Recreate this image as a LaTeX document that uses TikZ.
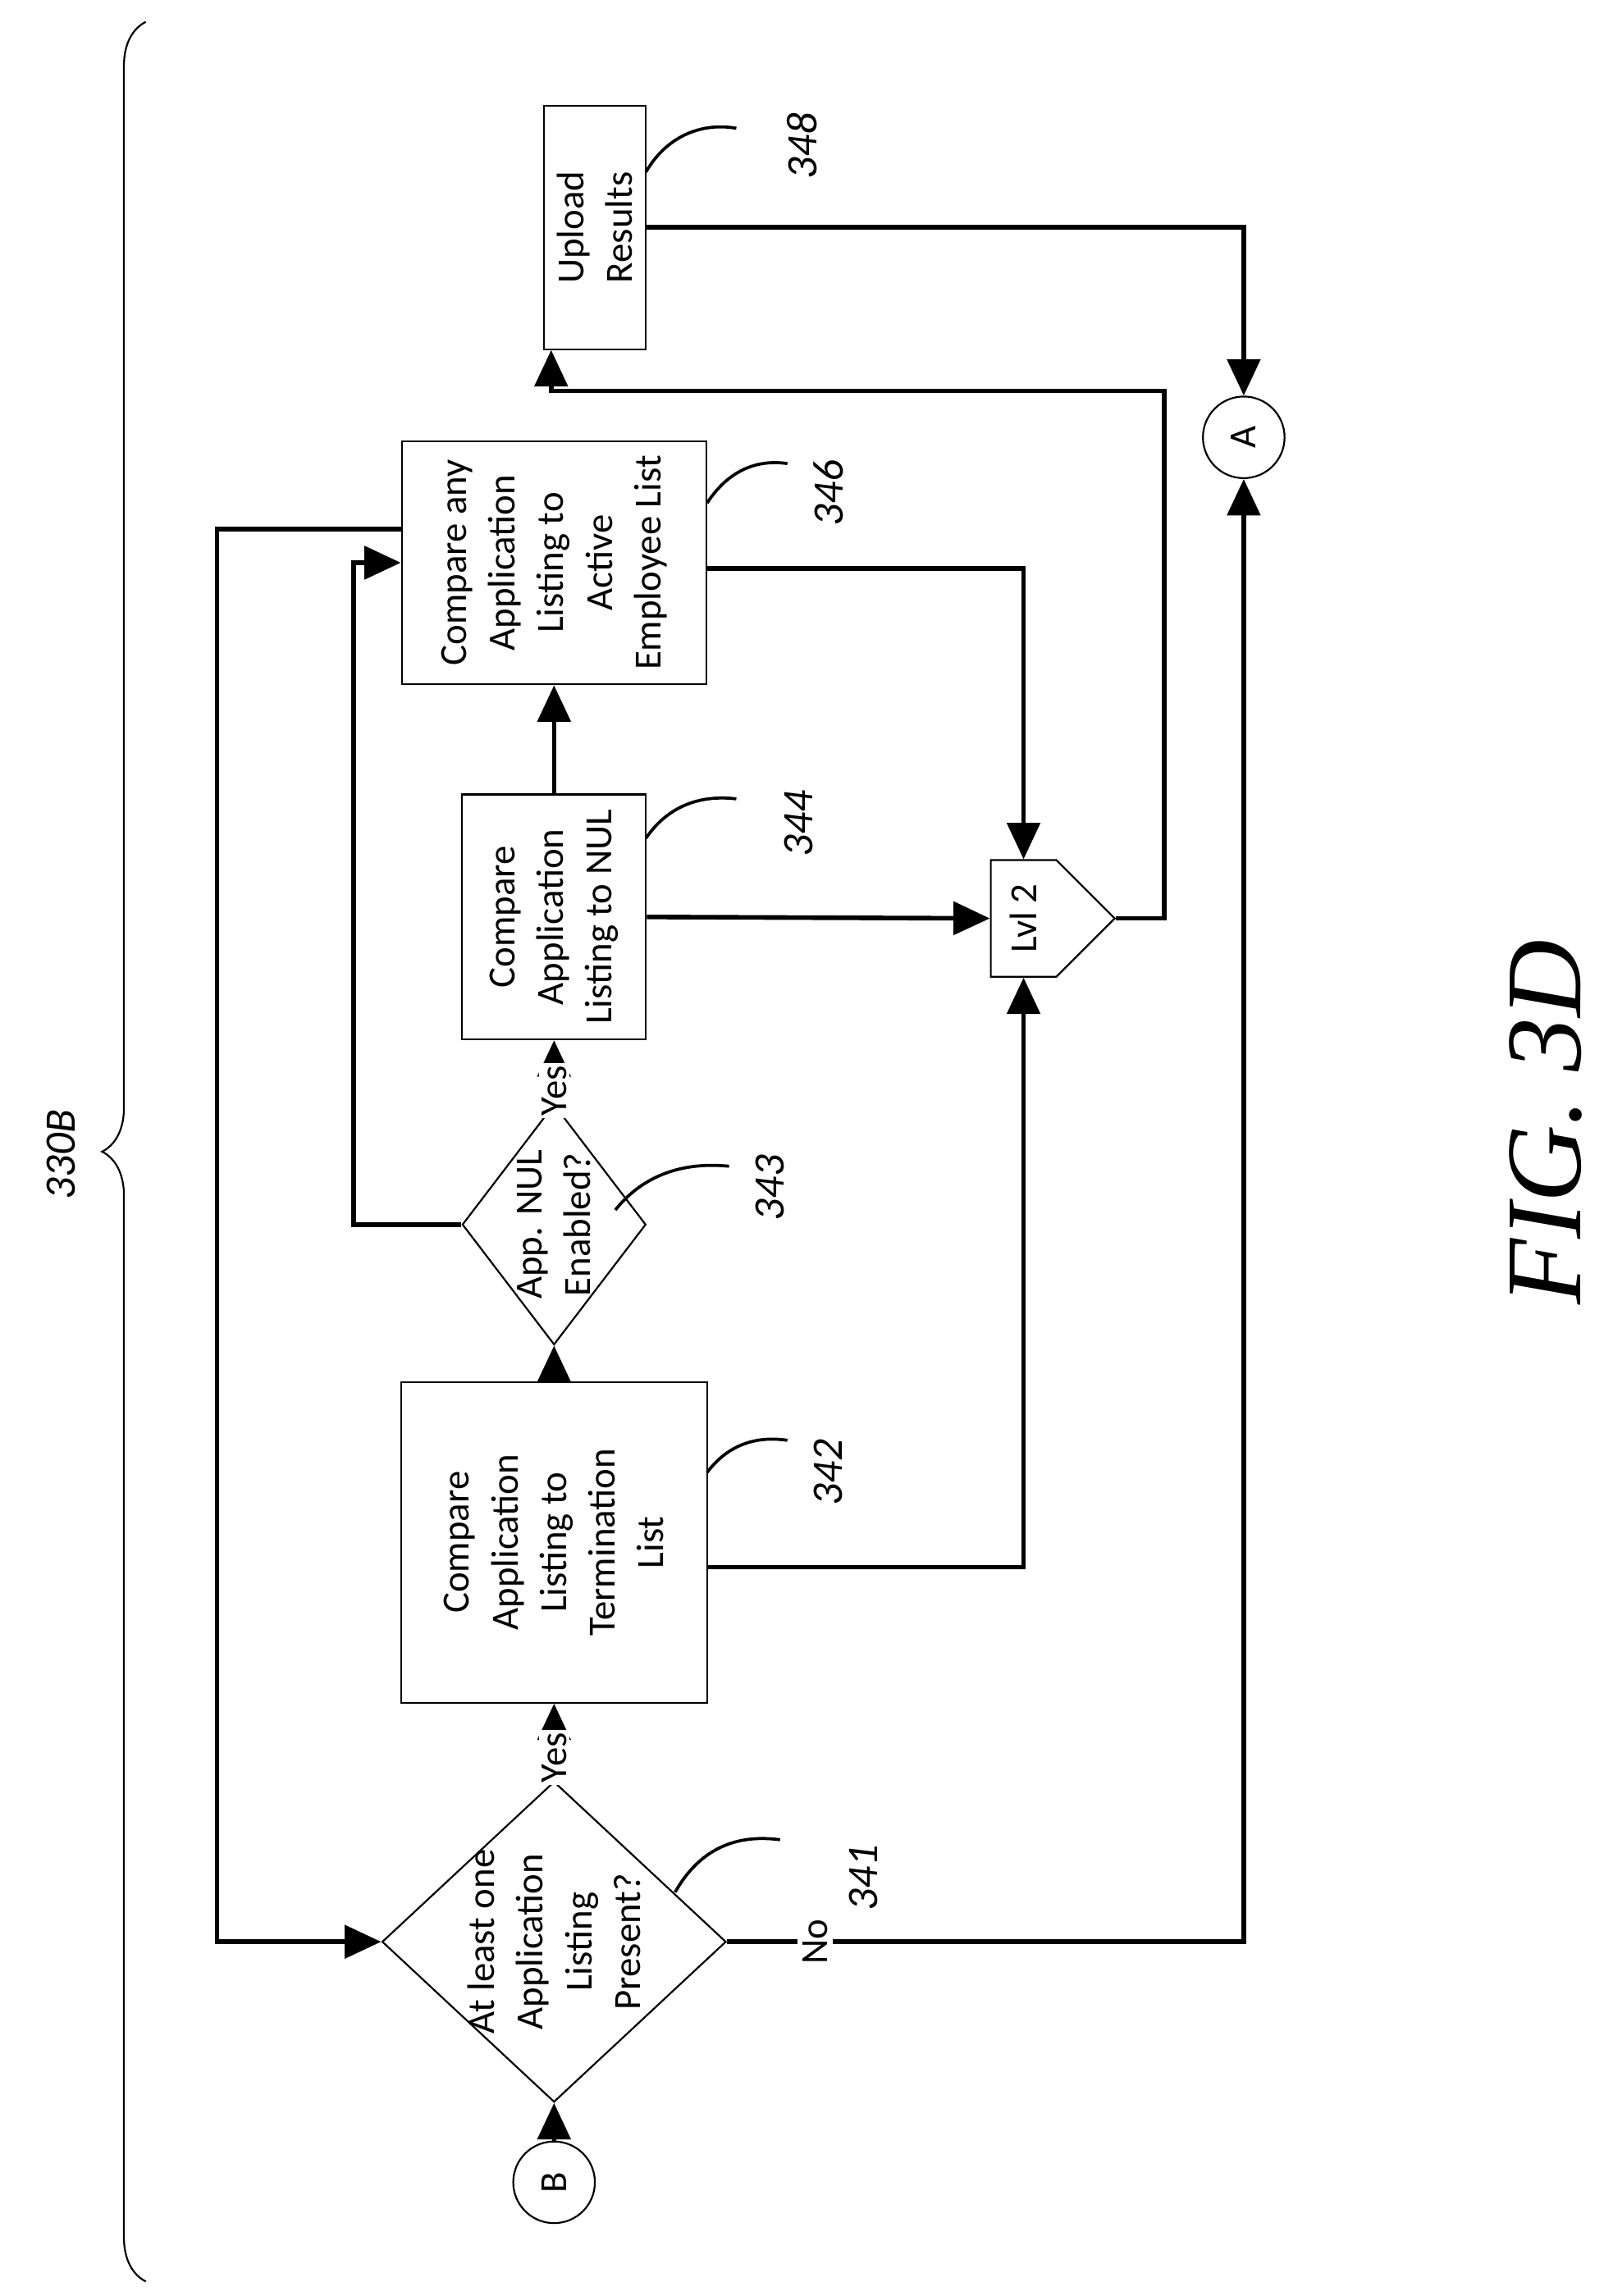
\documentclass[tikz,border=0pt]{standalone}
\usepackage{fontspec}
\setmainfont{Carlito}
\newfontfamily\figfont{Liberation Serif}
\usetikzlibrary{shapes.geometric,shapes.symbols,arrows.meta,decorations.pathreplacing,calc}
\tikzset{
  procbox/.style={draw, line width=0.7pt, rotate=90, align=center, inner sep=0pt, font=\fontsize{15}{19}\selectfont},
  decide/.style={draw, diamond, line width=0.7pt, rotate=90, inner sep=0pt},
  flow/.style={line width=1.8pt, -{Triangle[length=0.5cm,width=0.45cm]}},
  callout/.style={line width=1.2pt},
  refnum/.style={rotate=90, font=\fontsize{17}{20}\selectfont\itshape},
}
\begin{document}
\begin{tikzpicture}[x=0.02cm, y=-0.02cm]
\useasboundingbox (0,0) rectangle (1100,1575);

% steps (boxes drawn turned)
\node[procbox, minimum width=3.34cm, minimum height=1.4cm] (b348) at (408,156) {Upload\\Results};
\node[procbox, minimum width=3.34cm, minimum height=4.18cm] (b346) at (380,386) {Compare any\\Application\\Listing to\\Active\\Employee List};
\node[procbox, minimum width=3.36cm, minimum height=2.52cm] (b344) at (380,629) {Compare\\Application\\Listing to NUL};
\node[procbox, minimum width=4.4cm, minimum height=4.2cm] (b342) at (380,1058) {Compare\\Application\\Listing to\\Termination\\List};

% decisions
\node[decide, minimum width=3.3cm, minimum height=2.52cm] (d343) at (380,840) {};
\node[rotate=90, align=center, font=\fontsize{15}{19}\selectfont] at (d343) {App. NUL\\Enabled?};
\node[decide, minimum width=4.4cm, minimum height=4.72cm] (d341) at (380,1332) {};
\node[rotate=90, align=center, font=\fontsize{15}{19}\selectfont] at (d341) {At least one\\Application\\Listing\\Present?};

% level 2 join and connectors
\node[draw, signal, signal to=east, signal pointer angle=90, line width=0.7pt, minimum width=1.7cm, minimum height=1.6cm, inner sep=0pt] (lvl) at (702,630) {\rotatebox{90}{\fontsize{15}{19}\selectfont Lvl 2}};
\node[draw, circle, line width=0.7pt, minimum size=1.12cm, inner sep=0pt] (B) at (380,1497) {\rotatebox{90}{\fontsize{15}{19}\selectfont B}};
\node[draw, circle, line width=0.7pt, minimum size=1.12cm, inner sep=0pt] (A) at (853,300) {\rotatebox{90}{\fontsize{15}{19}\selectfont A}};

% flow
\draw[flow] (B) -- (d341.west);
\draw[flow] (d341.east) -- node[pos=0.3, rotate=90, fill=white, inner sep=1pt, font=\fontsize{15}{19}\selectfont]{Yes} (b342.west);
\draw[flow] (b342.east) -- (d343.west);
\draw[flow] (d343.east) -- node[pos=0.2, rotate=90, fill=white, inner sep=1pt, font=\fontsize{15}{19}\selectfont]{Yes} (b344.west);
\draw[flow] (b344.east) -- (b346.west);
\draw[flow] (b344.south) -- (lvl.west);
\draw[flow] ([yshift=-0.08cm]b346.south) -| (lvl.north);
\draw[flow] ([yshift=-0.34cm]b342.south) -| (lvl.south);
\draw[flow] (d343.north) -- ++(-1.48cm,0) |- (b346.north);
\draw[flow] ([yshift=0.46cm]b346.north) -- ++(-2.52cm,0) |- (d341.north);
\draw[flow] (d341.south) -| node[pos=0.085, rotate=90, fill=white, inner sep=2pt, font=\fontsize{15}{19}\selectfont]{No} (A.south);
\draw[flow] (lvl.east) -- ++(0.66cm,0) |- ([xshift=-0.6cm,yshift=-0.56cm]b348.west) -- ([xshift=-0.6cm]b348.west);
\draw[flow] (b348.south) -| (A.north);

% callouts
\draw[callout] (443,118) .. controls (458,92) and (483,84) .. (505,88);
\node[refnum] (n348) at (550,100) {348};
\draw[callout] (485,345) .. controls (500,322) and (520,315) .. (540,318);
\node[refnum] (n346) at (568,338) {346};
\draw[callout] (443,575) .. controls (458,553) and (480,545) .. (505,548);
\node[refnum] (n344) at (548,565) {344};
\draw[callout] (422,830) .. controls (442,805) and (470,797) .. (500,800);
\node[refnum] (n343) at (528,815) {343};
\draw[callout] (485,1010) .. controls (500,990) and (520,985) .. (540,988);
\node[refnum] (n342) at (568,1010) {342};
\draw[callout] (463,1298) .. controls (480,1268) and (505,1258) .. (535,1262);
\node[refnum] (n341) at (592,1288) {341};

% brace and titles
\draw[line width=0.7pt, decorate, decoration={brace, amplitude=0.6cm}] (100,1565) -- (100,15);
\node[refnum] (lbl) at (42,792) {330B};
\node[rotate=90, font=\figfont\fontsize{42}{46}\selectfont\itshape] (fig) at (1060,770) {FIG. 3D};
\end{tikzpicture}
\end{document}
